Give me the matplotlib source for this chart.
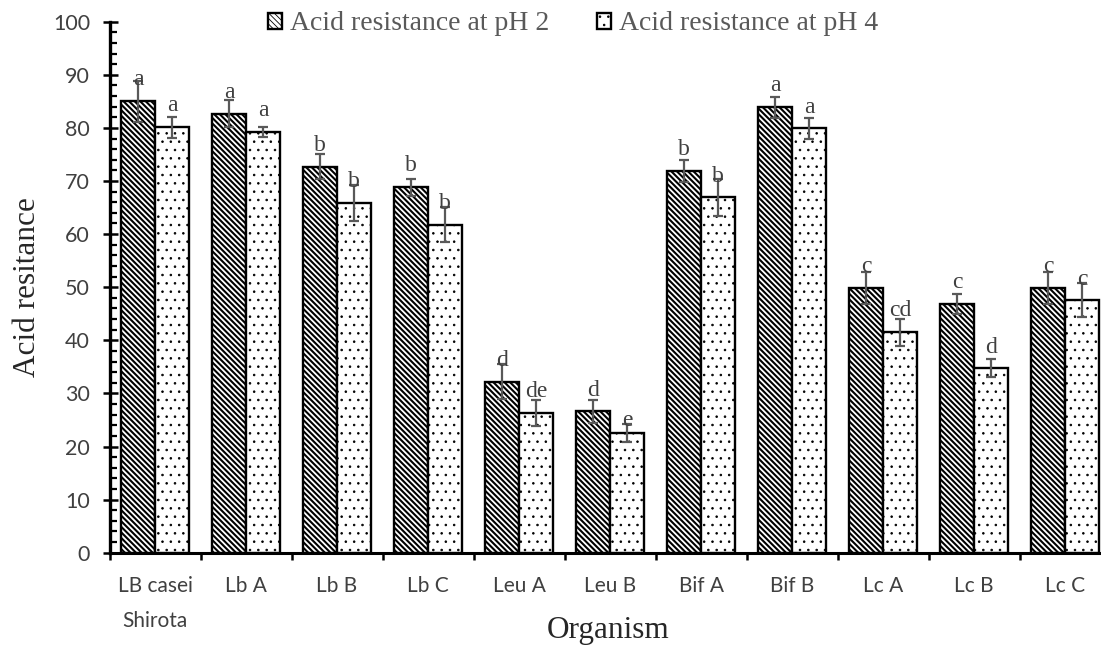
import matplotlib
matplotlib.use('Agg')
import matplotlib.pyplot as plt
from matplotlib.ticker import MultipleLocator
import numpy as np

# ---------------- data ----------------
organisms = ['LB casei\nShirota', 'Lb A', 'Lb B', 'Lb C', 'Leu A', 'Leu B',
             'Bif A', 'Bif B', 'Lc A', 'Lc B', 'Lc C']
ph2 = [85.0, 82.7, 72.7, 68.8, 32.2, 26.6, 71.9, 83.9, 49.9, 46.8, 49.9]
ph2_err = [3.9, 2.5, 2.4, 1.6, 3.3, 2.2, 2.1, 2.0, 3.0, 1.9, 3.0]
ph4 = [80.1, 79.2, 65.9, 61.8, 26.3, 22.5, 66.9, 79.9, 41.5, 34.7, 47.5]
ph4_err = [2.0, 1.0, 3.4, 3.3, 2.4, 1.7, 3.4, 1.9, 2.5, 1.7, 3.2]
ph2_letters = ['a', 'a', 'b', 'b', 'd', 'd', 'b', 'a', 'c', 'c', 'c']
ph4_letters = ['a', 'a', 'b', 'b', 'de', 'e', 'b', 'a', 'cd', 'd', 'c']
series_names = ['Acid resistance at pH 2', 'Acid resistance at pH 4']
yticks = list(range(0, 101, 10))

# ---------------- style ----------------
SERIF = 'Liberation Serif'
SANS = 'Lato'
label_gap = 3.0
label_nudge = {(1, 5): -1.7}   # (series, category) -> extra shift

fig = plt.figure(figsize=(11.01, 6.46), dpi=100)
ax = fig.add_axes([0.09946, 0.1444, 0.90917, 0.822])

x = np.arange(len(organisms))
w = 0.375

plt.rcParams['hatch.linewidth'] = 1.5
b2 = ax.bar(x - w / 2, ph2, w, facecolor='white', edgecolor='black',
            linewidth=1.7, hatch='\\' * 6, zorder=2, label=series_names[0])
for p in b2:
    if hasattr(p, 'set_hatch_linewidth'):
        p.set_hatch_linewidth(1.5)
plt.rcParams['hatch.linewidth'] = 0.6
b4 = ax.bar(x + w / 2, ph4, w, facecolor='white', edgecolor='black',
            linewidth=1.7, hatch='..', zorder=2, label=series_names[1])
for p in b4:
    if hasattr(p, 'set_hatch_linewidth'):
        p.set_hatch_linewidth(0.6)

err_kw = dict(fmt='none', ecolor='#595959', elinewidth=1.6, capsize=3.6,
              capthick=1.6, zorder=3)
ax.errorbar(x - w / 2, ph2, yerr=ph2_err, **err_kw)
ax.errorbar(x + w / 2, ph4, yerr=ph4_err, **err_kw)

for s, (vals, letters, off) in enumerate([(ph2, ph2_letters, -w / 2),
                                          (ph4, ph4_letters, w / 2)]):
    for i, (v, t) in enumerate(zip(vals, letters)):
        ax.text(i + off, v + label_gap + label_nudge.get((s, i), 0.0), t,
                ha='center', va='baseline', fontsize=17, family=SERIF,
                color='#404040', zorder=4)

# axes limits and ticks
ax.set_xlim(-0.5, len(organisms) - 0.5)
ax.set_ylim(0, 100)
ax.set_yticks(yticks)
ax.yaxis.set_minor_locator(MultipleLocator(2))
ax.set_xticks(np.arange(-0.5, len(organisms), 1.0))
ax.set_xticklabels([])
ax.set_xticks(x, organisms, minor=True)

for sp in ['top', 'right']:
    ax.spines[sp].set_visible(False)
ax.spines['left'].set_linewidth(2.4)
ax.spines['bottom'].set_linewidth(2.2)

ax.tick_params(axis='y', which='major', direction='inout', length=10.8,
               width=1.8, pad=8.6, labelsize=15.5, labelcolor='#404040')
ax.tick_params(axis='y', which='minor', direction='in', length=5,
               width=1.6)
ax.tick_params(axis='x', which='major', direction='out', length=5,
               width=1.8)
ax.tick_params(axis='x', which='minor', length=0, pad=16.5,
               labelsize=15, labelcolor='#404040')
for lab in ax.get_yticklabels() + ax.get_xticklabels(minor=True):
    lab.set_family(SANS)
for lab in ax.get_xticklabels(minor=True):
    lab.set_linespacing(1.95)

ax.set_ylabel('Acid resitance', family=SERIF, fontsize=22.5, color='#262626')
ax.yaxis.label.set_va('baseline')
ax.yaxis.set_label_coords((35 - 109.5) / 1001, 0.5)
ax.set_xlabel('Organism', family=SERIF, fontsize=22.5, color='#262626')
ax.xaxis.label.set_va('baseline')
ax.xaxis.set_label_coords((608 - 109.5) / 1001, (552.7 - 637.5) / 531)

fig.legend(handles=[b2, b4], labels=series_names, loc='center',
           bbox_to_anchor=(573 / 1101, 1 - 24 / 646), ncol=2, frameon=False,
           prop={'family': SERIF, 'size': 20}, handlelength=0.5,
           handleheight=0.5, handletextpad=0.3, columnspacing=1.7,
           labelcolor='#595959', borderpad=0, borderaxespad=0)

fig.savefig('out.png', dpi=100)
